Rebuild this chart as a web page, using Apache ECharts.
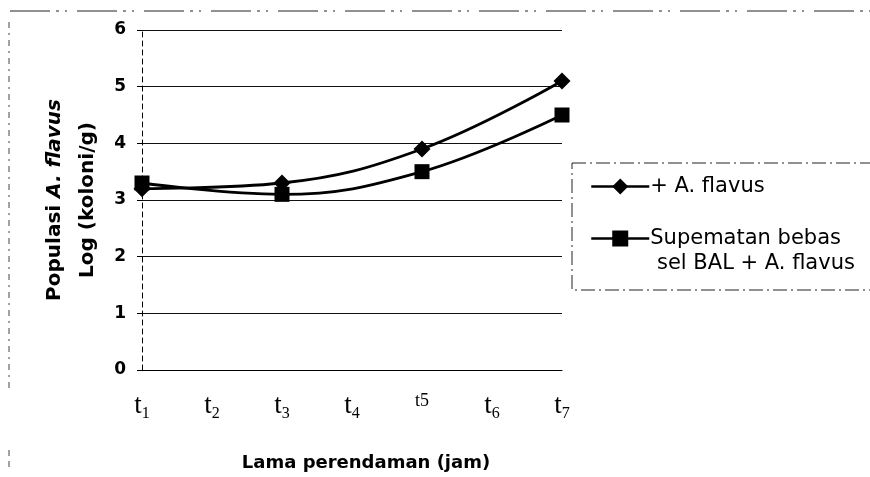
<!DOCTYPE html>
<html>
<head>
<meta charset="utf-8">
<script src="https://cdn.jsdelivr.net/npm/echarts@6/dist/echarts.min.js"></script>
<style>html,body{margin:0;padding:0;background:#fff}#c{width:870px;height:477px}</style>
</head>
<body>
<div id="c"></div>
<script>
const categories = ['t1','t2','t3','t4','t5','t6','t7'];
const subscripts = ['1','2','3','4','5','6','7'];
const seriesNames = ['+ A. flavus', 'Supematan bebas\nsel BAL + A. flavus'];
const aFlavus = [3.2, null, 3.3, null, 3.9, null, 5.1];
const supernatan = [3.3, null, 3.1, null, 3.5, null, 4.5];
const yTicks = [0, 1, 2, 3, 4, 5, 6];
const xTitle = 'Lama perendaman (jam)';
const yTitle1 = 'Populasi ';
const yTitleItalic = 'A. flavus';
const yTitle2 = 'Log (koloni/g)';

const chart = echarts.init(document.getElementById('c'));
const serif = '"Liberation Serif", "DejaVu Serif", serif';
const sans = '"DejaVu Sans", "Liberation Sans", sans-serif';

chart.setOption({
  animation: false,
  backgroundColor: '#fff',
  grid: { left: 142, right: 308, top: 30, bottom: 107, containLabel: false, outerBoundsMode: 'none' },
  xAxis: {
    type: 'category',
    data: categories,
    boundaryGap: false,
    axisLine: { lineStyle: { color: '#000', width: 1 } },
    axisTick: { show: false },
    axisLabel: {
      margin: 22,
      formatter: function (v, i) {
        if (i === 4) return '{sm|t' + subscripts[i] + '}';
        return '{t|t}{s|' + subscripts[i] + '}';
      },
      rich: {
        t: { fontFamily: serif, fontSize: 27, color: '#000', verticalAlign: 'bottom' },
        s: { fontFamily: serif, fontSize: 16, color: '#000', verticalAlign: 'bottom', padding: [0, 0, -3, 0] },
        sm: { fontFamily: serif, fontSize: 18, color: '#000', verticalAlign: 'bottom', padding: [0, 0, -5, 0] }
      }
    },
    name: xTitle,
    nameLocation: 'middle',
    nameGap: 84,
    nameTextStyle: { fontFamily: sans, fontWeight: 'bold', fontSize: 18, color: '#000', padding: [0, 0, 0, 28] }
  },
  yAxis: {
    type: 'value',
    min: 0, max: 6, interval: 1,
    axisLine: { show: true, lineStyle: { color: '#000', width: 1, type: [5, 4] } },
    axisTick: { show: true, length: 5, lineStyle: { color: '#000' } },
    axisLabel: {
      margin: 16,
      fontFamily: sans, fontWeight: 'bold', fontSize: 17, color: '#000',
      formatter: function (v) { return yTicks.indexOf(v) >= 0 ? String(v) : ''; }
    },
    splitLine: { show: true, lineStyle: { color: '#111', width: 1 } },
    name: yTitle1 + '{i|' + yTitleItalic + '}\n' + yTitle2,
    nameLocation: 'middle',
    nameRotate: 90,
    nameGap: 38,
    nameTextStyle: {
      fontFamily: sans, fontWeight: 'bold', fontSize: 20, color: '#000', lineHeight: 33,
      rich: { i: { fontFamily: sans, fontWeight: 'bold', fontStyle: 'italic', fontSize: 20, color: '#000', lineHeight: 33 } }
    }
  },
  legend: {
    orient: 'vertical',
    left: 590,
    top: 176,
    padding: 0,
    itemWidth: 58,
    itemHeight: 20,
    itemGap: 31,
    lineStyle: { width: 2.5, color: '#000' },
    formatter: function (name) { return name.split('\n')[0]; },
    textStyle: { fontFamily: sans, fontSize: 21, color: '#000', padding: [0, 0, 0, -4] },
    data: seriesNames
  },
  series: [
    {
      name: seriesNames[0], type: 'line', data: aFlavus, connectNulls: true, smooth: 0.4,
      symbol: 'diamond', symbolSize: 17,
      lineStyle: { color: '#000', width: 2.8 }, itemStyle: { color: '#000' }
    },
    {
      name: seriesNames[1], type: 'line', data: supernatan, connectNulls: true, smooth: 0.4,
      symbol: 'rect', symbolSize: 15,
      lineStyle: { color: '#000', width: 2.8 }, itemStyle: { color: '#000' }
    }
  ],
  graphic: [
    { type: 'text', left: 657, top: 253,
      style: { text: seriesNames[1].split('\n')[1], font: '21px "DejaVu Sans", sans-serif', fill: '#000' } },
    { type: 'rect', shape: { x: 572, y: 163, width: 320, height: 127 },
      style: { fill: 'none', stroke: '#222', lineWidth: 1, lineDash: [14, 4, 2, 4] } },
    { type: 'line', shape: { x1: 10, y1: 11, x2: 870, y2: 11 },
      style: { stroke: '#222', lineWidth: 1, lineDash: [40, 6, 3, 6, 2, 10] } },
    { type: 'line', shape: { x1: 9, y1: 22, x2: 9, y2: 392 },
      style: { stroke: '#444', lineWidth: 1, lineDash: [6, 5, 2, 5] } },
    { type: 'line', shape: { x1: 9, y1: 450, x2: 9, y2: 470 },
      style: { stroke: '#444', lineWidth: 1, lineDash: [6, 5] } }
  ]
});
</script>
</body>
</html>
